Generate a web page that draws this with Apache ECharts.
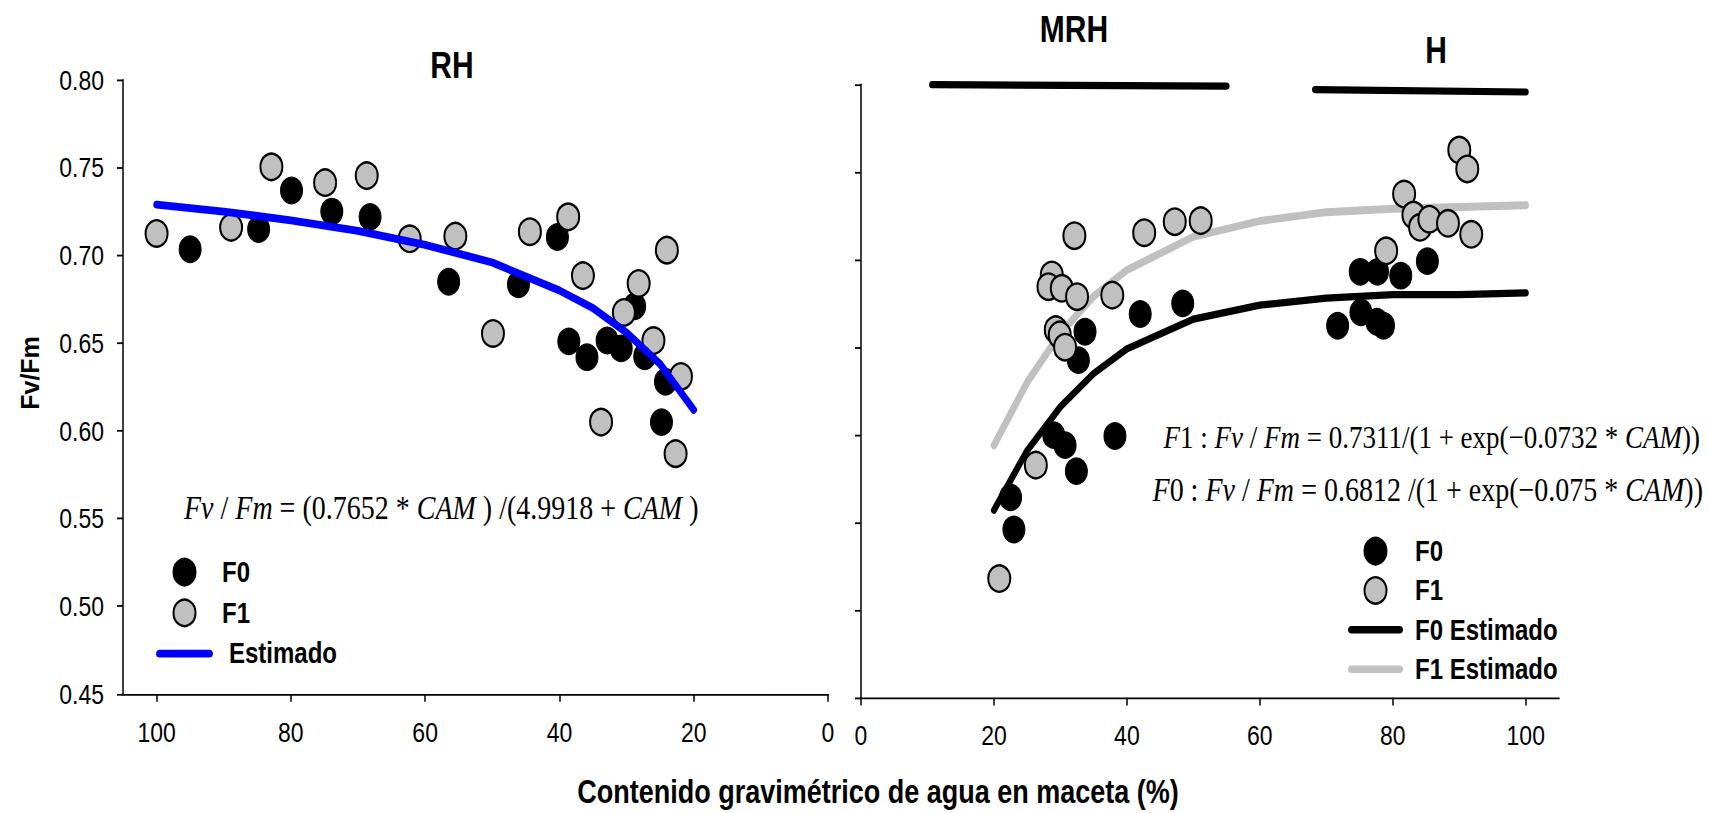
<!DOCTYPE html>
<html>
<head>
<meta charset="utf-8">
<script src="https://cdn.jsdelivr.net/npm/echarts@6/dist/echarts.min.js"></script>
<style>
html,body{margin:0;padding:0;background:#fff;overflow:hidden;}
#wrap{width:1709px;height:813px;overflow:hidden;}
#chart{width:1709px;height:677.5px;transform:scaleY(1.2);transform-origin:0 0;}
</style>
</head>
<body>
<div id="wrap"><div id="chart"></div></div>
<script>
// ---------------- DATA ----------------
const xTickValues = [0, 20, 40, 60, 80, 100];

// Left panel (RH)
const leftF0X = [95.0, 84.8, 79.9, 73.9, 68.2, 56.5, 46.1, 40.3, 38.6, 35.9, 32.9, 30.8, 28.8, 27.3, 24.2, 24.8];
const leftF0Y = [0.7035, 0.715, 0.737, 0.725, 0.722, 0.685, 0.6835, 0.7105, 0.651, 0.642, 0.6515, 0.647, 0.671, 0.6425, 0.628, 0.605];
const leftF1X = [100.0, 88.9, 82.9, 74.9, 68.7, 62.3, 55.5, 49.9, 44.4, 38.7, 36.5, 33.8, 30.4, 28.2, 26.0, 24.0, 22.7, 21.9];
const leftF1Y = [0.7125, 0.716, 0.7505, 0.7415, 0.7455, 0.7095, 0.711, 0.6555, 0.7135, 0.722, 0.6885, 0.605, 0.6675, 0.684, 0.6515, 0.703, 0.587, 0.631];
const leftFitX = [100, 90, 80, 70, 60, 50, 40, 35, 30, 25, 20];
const leftFitY = [0.729, 0.725, 0.720, 0.714, 0.706, 0.696, 0.680, 0.670, 0.656, 0.638, 0.612];

// Right panel (MRH / H)
const rightF0X = [22.5, 23.0, 29.0, 30.7, 32.4, 38.2, 32.7, 33.7, 42.0, 48.4, 71.7, 75.2, 77.6, 78.6, 75.1, 77.7, 81.2, 85.2];
const rightF0Y = [0.5643, 0.546, 0.5998, 0.5941, 0.5793, 0.5993, 0.6426, 0.6588, 0.6689, 0.675, 0.6622, 0.6699, 0.6645, 0.6622, 0.693, 0.693, 0.6908, 0.6991];
const rightF1X = [20.8, 26.3, 28.7, 28.2, 30.2, 32.5, 37.8, 29.3, 29.9, 30.7, 32.1, 42.6, 47.2, 51.1, 79.0, 81.7, 83.1, 84.1, 85.5, 88.3, 91.8, 90.0, 91.2];
const rightF1Y = [0.518, 0.5827, 0.6912, 0.6845, 0.6836, 0.6788, 0.6797, 0.660, 0.657, 0.650, 0.7136, 0.7153, 0.7216, 0.7222, 0.705, 0.7374, 0.7254, 0.7184, 0.723, 0.7207, 0.7144, 0.7625, 0.7517];
const rightFitX = [20, 25, 30, 35, 40, 50, 60, 70, 80, 90, 100];
const rightF0FitY = [0.557, 0.591, 0.616, 0.635, 0.649, 0.666, 0.674, 0.678, 0.680, 0.680, 0.681];
const rightF1FitY = [0.594, 0.630, 0.658, 0.679, 0.694, 0.713, 0.722, 0.727, 0.729, 0.730, 0.731];

// Range bars at top of right panel
const mrhBarX = [10.7, 55.0];
const mrhBarY = [0.7998, 0.7990];
const hBarX = [68.3, 100.0];
const hBarY = [0.7970, 0.7956];

// Texts
const panelTitles = ['RH', 'MRH', 'H'];
const yAxisName = 'Fv/Fm';
const xAxisName = 'Contenido gravimétrico de agua en maceta (%)';
const legendLeft = ['F0', 'F1', 'Estimado'];
const legendRight = ['F0', 'F1', 'F0 Estimado', 'F1 Estimado'];

// ---------------- CHART ----------------
const zip = (xs, ys) => xs.map((x, i) => [x, ys[i]]);
const SANS = "'Liberation Sans', Arial, Helvetica, sans-serif";
const SERIF = "'Liberation Serif', 'Times New Roman', Times, serif";
const SY = 1.2; // the original figure is stretched vertically; the page is scaled by CSS
const ly = v => v / SY;
const LINE_ICON = 'path://M3.25,0 L53.75,0 C55.5,0 57,1.45 57,3.25 C57,5.05 55.5,6.5 53.75,6.5 L3.25,6.5 C1.45,6.5 0,5.05 0,3.25 C0,1.45 1.45,0 3.25,0 Z';

const axisCommon = {
  axisLine: { show: true, onZero: false, lineStyle: { color: '#000', width: 1.5 } },
  splitLine: { show: false }
};

const chart = echarts.init(document.getElementById('chart'), null, { renderer: 'svg', width: 1709, height: 677.5 });

const eqRich = (fs) => ({
  i: { fontFamily: SERIF, fontStyle: 'italic', fontSize: fs, color: '#000' },
  n: { fontFamily: SERIF, fontSize: fs, color: '#000' }
});

const option = {
  animation: false,
  backgroundColor: '#fff',
  grid: [
    { left: 123, top: ly(80), width: 705, height: ly(694) - ly(80) },
    { left: 861, top: ly(84.3), width: 698, height: ly(697.7) - ly(84.3) }
  ],
  xAxis: [
    Object.assign({}, axisCommon, {
      gridIndex: 0, type: 'value', min: 0, max: 105, inverse: true, interval: 20,
      axisTick: { show: true, customValues: xTickValues, length: 6.5, lineStyle: { color: '#000', width: 1.5 } },
      axisLabel: { customValues: xTickValues, fontSize: 23, fontFamily: SANS, color: '#000', margin: 20 }
    }),
    Object.assign({}, axisCommon, {
      gridIndex: 1, type: 'value', min: 0, max: 105, interval: 20,
      axisTick: { show: true, customValues: xTickValues, length: 6.5, lineStyle: { color: '#000', width: 1.5 } },
      axisLabel: { customValues: xTickValues, fontSize: 23, fontFamily: SANS, color: '#000', margin: 20 }
    })
  ],
  yAxis: [
    Object.assign({}, axisCommon, {
      gridIndex: 0, type: 'value', min: 0.45, max: 0.80, interval: 0.05,
      axisTick: { show: true, length: 6, lineStyle: { color: '#000', width: 1.5 } },
      axisLabel: { fontSize: 23, fontFamily: SANS, color: '#000', margin: 19, formatter: v => v.toFixed(2) }
    }),
    Object.assign({}, axisCommon, {
      gridIndex: 1, type: 'value', min: 0.45, max: 0.80, interval: 0.05,
      axisTick: { show: true, length: 6, lineStyle: { color: '#000', width: 1.5 } },
      axisLabel: { show: false }
    })
  ],
  legend: [
    {
      orient: 'vertical', left: 151, top: ly(572.7) - 17.5, itemWidth: 57, itemHeight: 22, itemGap: 10,
      selectedMode: false,
      textStyle: { fontSize: 24, fontWeight: 'bold', fontFamily: SANS, color: '#000' },
      data: [
        { name: legendLeft[0], textStyle: { padding: [0, 0, 0, 4] } },
        { name: legendLeft[1], textStyle: { padding: [0, 0, 0, 4] } },
        { name: legendLeft[2], icon: LINE_ICON, textStyle: { padding: [0, 0, 0, 11] } }
      ]
    },
    {
      orient: 'vertical', left: 1343, top: ly(549.3) - 15.5, itemWidth: 55, itemHeight: 22, itemGap: 8.8,
      selectedMode: false,
      textStyle: { fontSize: 24, fontWeight: 'bold', fontFamily: SANS, color: '#000' },
      data: legendRight.map((n, i) => (i < 2
        ? { name: n, textStyle: { padding: [0, 0, 0, 7] } }
        : { name: n, icon: LINE_ICON, textStyle: { padding: [0, 0, 0, 7] } }))
    }
  ],
  graphic: [
    { type: 'text', x: 452, y: ly(65.5), style: { text: panelTitles[0], fontSize: 30, fontWeight: 'bold', fontFamily: SANS, fill: '#000', align: 'center', verticalAlign: 'middle' } },
    { type: 'text', x: 1074, y: ly(29.5), style: { text: panelTitles[1], fontSize: 30, fontWeight: 'bold', fontFamily: SANS, fill: '#000', align: 'center', verticalAlign: 'middle' } },
    { type: 'text', x: 1436, y: ly(50.5), style: { text: panelTitles[2], fontSize: 30, fontWeight: 'bold', fontFamily: SANS, fill: '#000', align: 'center', verticalAlign: 'middle' } },
    { type: 'text', x: 30, y: ly(373), rotation: Math.PI / 2, scaleX: 1 / SY, style: { text: yAxisName, fontSize: 25, fontWeight: 'bold', fontFamily: SANS, fill: '#000', align: 'center', verticalAlign: 'middle' } },
    { type: 'text', x: 878, y: ly(792), style: { text: xAxisName, fontSize: 27, fontWeight: 'bold', fontFamily: SANS, fill: '#000', align: 'center', verticalAlign: 'middle' } },
    { type: 'text', x: 184, y: ly(508), style: { text: '{i|Fv}{n| / }{i|Fm}{n| = (0.7652 * }{i|CAM}{n| ) /(4.9918 + }{i|CAM}{n| )}', rich: eqRich(28), align: 'left', verticalAlign: 'middle' } },
    { type: 'text', x: 1700, y: ly(436.7), style: { text: '{i|F}{n|1 : }{i|Fv}{n| / }{i|Fm}{n| = 0.7311/(1 + exp(\u22120.0732 * }{i|CAM}{n|))}', rich: eqRich(27), align: 'right', verticalAlign: 'middle' } },
    { type: 'text', x: 1703, y: ly(490), style: { text: '{i|F}{n|0 : }{i|Fv}{n| / }{i|Fm}{n| = 0.6812 /(1 + exp(\u22120.075 * }{i|CAM}{n|))}', rich: eqRich(28), align: 'right', verticalAlign: 'middle' } }
  ],
  series: [
    { name: 'F0', type: 'scatter', xAxisIndex: 0, yAxisIndex: 0, data: zip(leftF0X, leftF0Y), symbol: 'circle', symbolSize: 22, itemStyle: { color: '#000', borderColor: '#000', borderWidth: 1, opacity: 1 }, z: 2 },
    { name: 'F1', type: 'scatter', xAxisIndex: 0, yAxisIndex: 0, data: zip(leftF1X, leftF1Y), symbol: 'circle', symbolSize: 22, itemStyle: { color: '#c0c0c0', borderColor: '#000', borderWidth: 2, opacity: 1 }, z: 3 },
    { name: 'Estimado', type: 'line', xAxisIndex: 0, yAxisIndex: 0, data: zip(leftFitX, leftFitY), symbol: 'none', smooth: false, lineStyle: { color: '#0000ff', width: 6.5, cap: 'round', join: 'round' }, itemStyle: { color: '#0000ff' }, z: 4 },

    { name: 'F0 Estimado', type: 'line', xAxisIndex: 1, yAxisIndex: 1, data: zip(rightFitX, rightF0FitY), symbol: 'none', lineStyle: { color: '#000', width: 6, cap: 'round', join: 'round' }, itemStyle: { color: '#000' }, z: 2 },
    { name: 'F1 Estimado', type: 'line', xAxisIndex: 1, yAxisIndex: 1, data: zip(rightFitX, rightF1FitY), symbol: 'none', lineStyle: { color: '#c0c0c0', width: 6.5, cap: 'round', join: 'round' }, itemStyle: { color: '#c0c0c0' }, z: 2 },
    { name: 'F0', type: 'scatter', xAxisIndex: 1, yAxisIndex: 1, data: zip(rightF0X, rightF0Y), symbol: 'circle', symbolSize: 22, itemStyle: { color: '#000', borderColor: '#000', borderWidth: 1, opacity: 1 }, z: 3 },
    { name: 'F1', type: 'scatter', xAxisIndex: 1, yAxisIndex: 1, data: zip(rightF1X, rightF1Y), symbol: 'circle', symbolSize: 22, itemStyle: { color: '#c0c0c0', borderColor: '#000', borderWidth: 2, opacity: 1 }, z: 4 },

    { name: 'MRH', type: 'line', xAxisIndex: 1, yAxisIndex: 1, data: zip(mrhBarX, mrhBarY), symbol: 'none', clip: false, lineStyle: { color: '#000', width: 6, cap: 'round' }, z: 5, silent: true },
    { name: 'H', type: 'line', xAxisIndex: 1, yAxisIndex: 1, data: zip(hBarX, hBarY), symbol: 'none', clip: false, lineStyle: { color: '#000', width: 6, cap: 'round' }, z: 5, silent: true }
  ]
};
chart.setOption(option);
</script>
</body>
</html>
